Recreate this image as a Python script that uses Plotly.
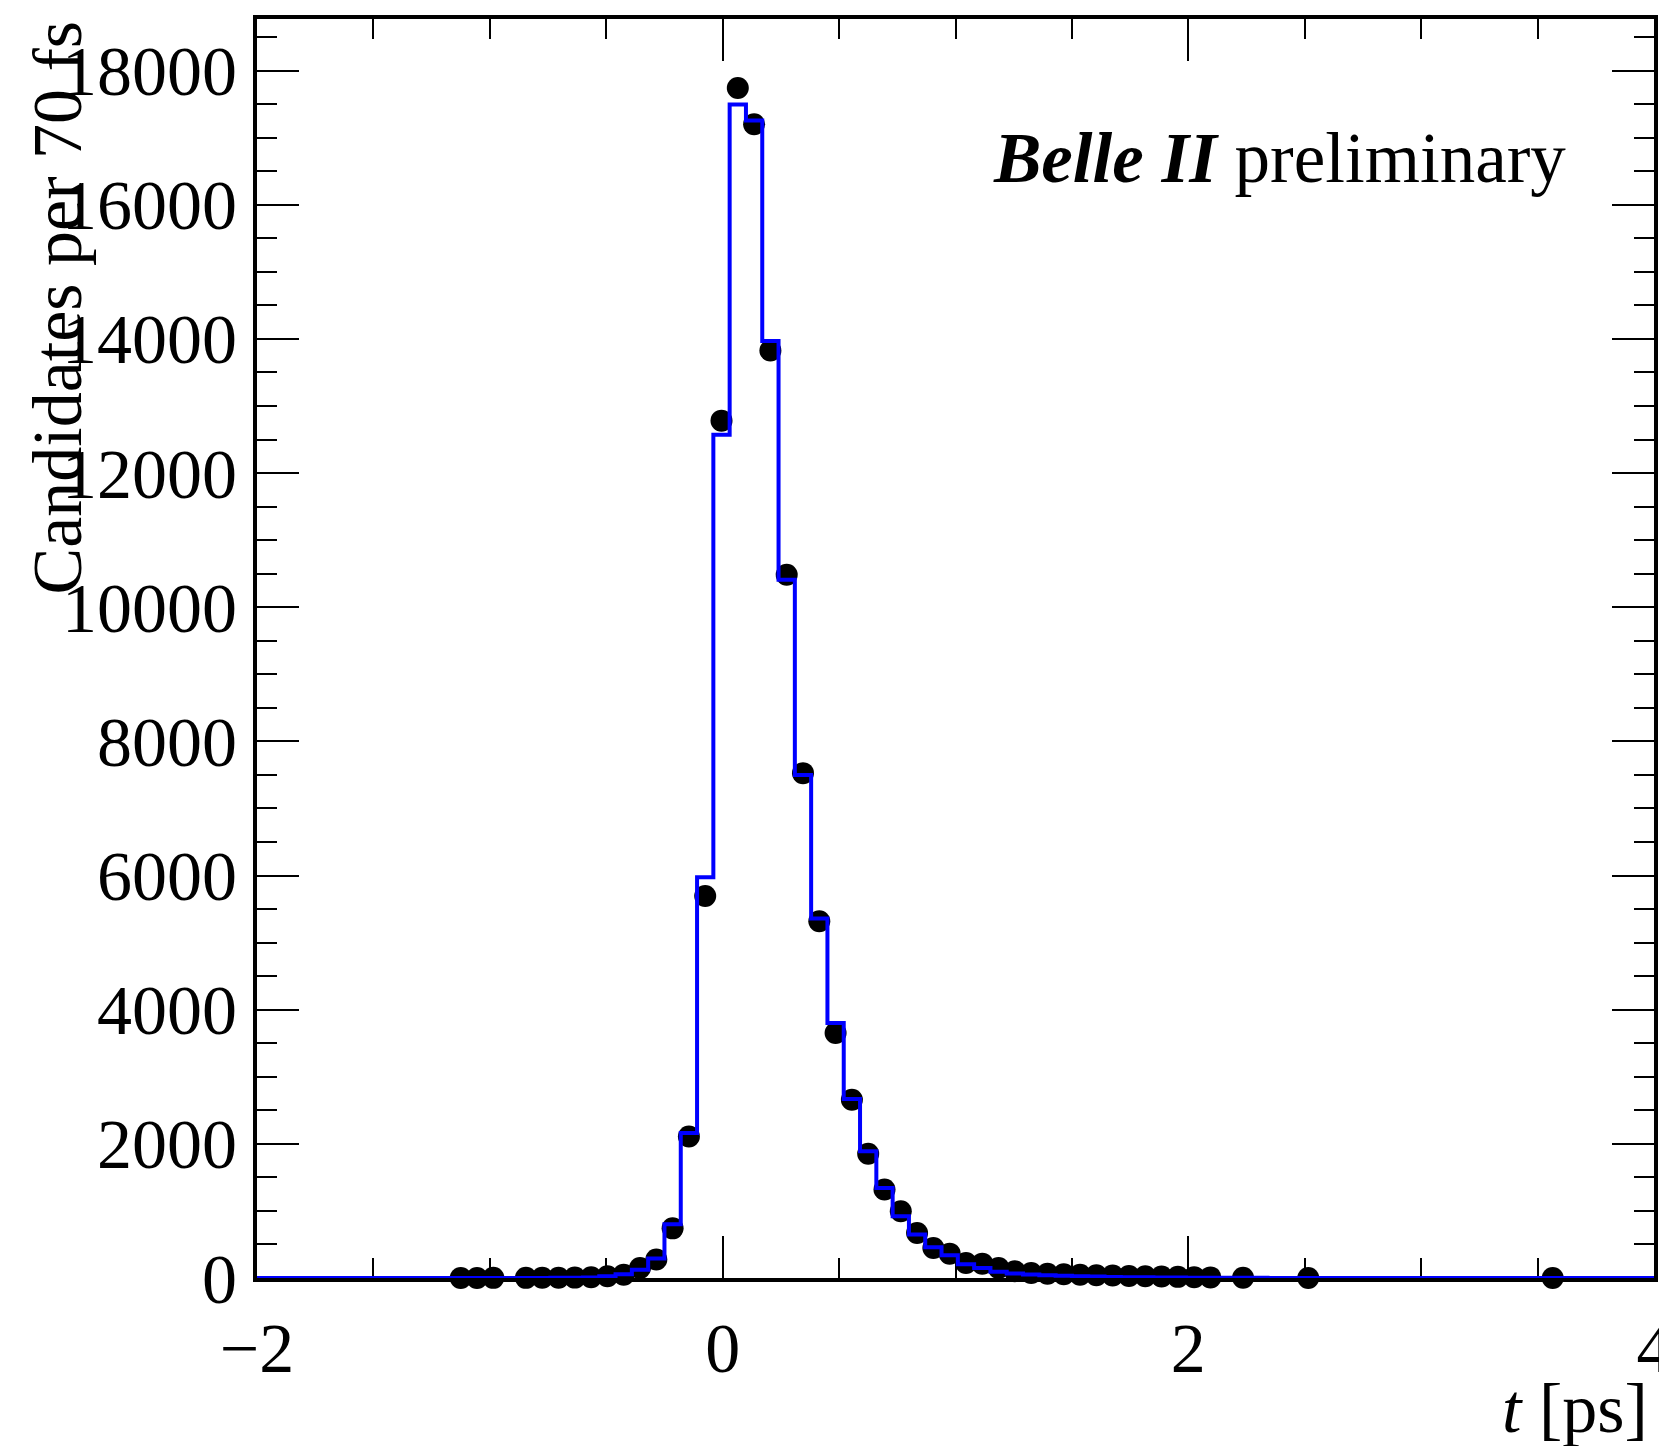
import numpy as np
import plotly.graph_objects as go

# Binning of the decay-time histogram: 70 fs bins starting at t = -2 ps
t_min = -2.0
bin_width = 0.07
n_bins = 86

# Fitted model, candidates per bin (bin index 0..85)
model_counts = [
    0, 0, 0, 0, 0, 0, 0, 0, 0, 0,
    0, 0, 0, 0, 0, 0, 1, 1, 2, 4,
    8, 25, 55, 124, 290, 800, 2160, 5975, 12571, 17497,
    17257, 13971, 10411, 7500, 5360, 3801, 2667, 1890, 1340, 920,
    647, 460, 338, 205, 149, 95, 68, 52, 42, 34,
    27, 21, 16, 13, 10, 8, 6, 5, 4, 3,
    2, 2, 1, 1, 0, 0, 0, 0, 0, 0,
    0, 0, 0, 0, 0, 0, 0, 0, 0, 0,
    0, 0, 0, 0, 0, 0,
]

# Observed candidates: occupied bin indices and their counts
data_bins = [
    12, 13, 14, 16, 17, 18, 19, 20, 21, 22,
    23, 24, 25, 26, 27, 28, 29, 30, 31, 32,
    33, 34, 35, 36, 37, 38, 39, 40, 41, 42,
    43, 44, 45, 46, 47, 48, 49, 50, 51, 52,
    53, 54, 55, 56, 57, 58, 60, 64, 79,
]
data_counts = [
    1, 1, 2, 2, 3, 4, 6, 10, 25, 50,
    149, 275, 740, 2110, 5696, 12782, 17742, 17200, 13828, 10485,
    7527, 5318, 3652, 2657, 1851, 1318, 995, 672, 448, 363,
    224, 214, 149, 100, 75, 62, 55, 48, 42, 36,
    30, 26, 21, 17, 13, 9, 3, 1, 1,
]

y_ticks = [0, 2000, 4000, 6000, 8000, 10000, 12000, 14000, 16000, 18000]
x_ticks = [-2, 0, 2, 4]

edges = t_min + bin_width * np.arange(n_bins + 1)
step_y = list(model_counts) + [model_counts[-1]]
data_t = t_min + (np.array(data_bins) + 0.5) * bin_width

FONT = "Liberation Serif"

fig = go.Figure()
fig.add_trace(go.Scatter(
    x=data_t, y=data_counts, mode="markers",
    marker=dict(symbol="circle", size=22, color="black", line=dict(width=0)),
    cliponaxis=False, showlegend=False,
))
fig.add_trace(go.Scatter(
    x=edges, y=step_y, mode="lines",
    line=dict(color="#0000ff", width=4, shape="hv"),
    showlegend=False,
))

axis_common = dict(
    showgrid=False, zeroline=False, showline=True, linecolor="black",
    linewidth=4, mirror="allticks", ticks="inside", ticklen=42,
    tickwidth=2, tickcolor="black", layer="below traces",
    tickfont=dict(family=FONT, size=70, color="black"),
    ticklabeloverflow="allow", automargin=False,
)

fig.update_layout(
    width=1659, height=1446,
    margin=dict(l=257, r=5, t=19, b=168, autoexpand=False),
    plot_bgcolor="white", paper_bgcolor="white",
    font=dict(family=FONT, color="black"),
    xaxis=dict(
        range=[-2, 4], tickvals=x_ticks,
        minor=dict(dtick=0.5, tick0=0, ticks="inside", ticklen=20,
                   tickwidth=2, tickcolor="black"),
        ticklabelstandoff=6,
        **axis_common,
    ),
    yaxis=dict(
        range=[0, 18770], tickvals=y_ticks, tickformat="d",
        minor=dict(dtick=500, tick0=0, ticks="inside", ticklen=20,
                   tickwidth=2, tickcolor="black"),
        ticklabelstandoff=2,
        **axis_common,
    ),
    annotations=[
        dict(text="Candidates per 70 fs", textangle=-90,
             xref="paper", yref="paper", x=-0.1425, y=1.0,
             xanchor="center", yanchor="top", showarrow=False,
             font=dict(family=FONT, size=70, color="black")),
        dict(text="<i>t</i> [ps]",
             xref="paper", yref="paper", x=0.997, y=-0.1035,
             xanchor="right", yanchor="middle", showarrow=False,
             font=dict(family=FONT, size=70, color="black")),
        dict(text="<b><i>Belle II</i></b> preliminary",
             xref="paper", yref="paper", x=0.9385, y=0.8895,
             xanchor="right", yanchor="middle", showarrow=False,
             font=dict(family=FONT, size=71, color="black")),
    ],
)

fig.write_html("out.html")
